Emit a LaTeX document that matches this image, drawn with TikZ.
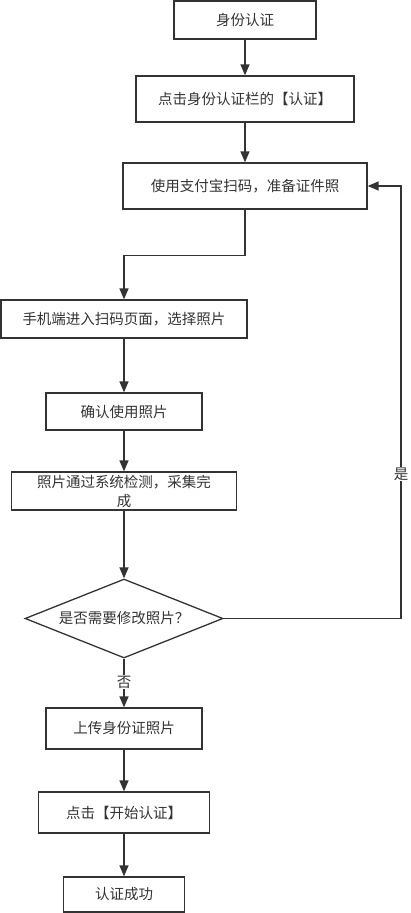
\documentclass[tikz,border=0pt]{standalone}
\usepackage{fontspec}
\setmainfont{Noto Sans CJK SC}
\usetikzlibrary{arrows.meta,shapes.geometric}
\definecolor{ink}{HTML}{333333}
\tikzset{
  box/.style={draw=ink, line width=1.3pt, text=ink, inner sep=0pt, font=\fontsize{14.5}{19}\selectfont, align=center},
  flow/.style={draw=ink, line width=1.3pt, -{Triangle[length=11pt,width=9pt]}},
  lbl/.style={fill=white, text=ink, inner sep=1pt, font=\fontsize{14.5}{19}\selectfont}
}
\begin{document}
\begin{tikzpicture}[x=1pt,y=-1pt]
\useasboundingbox (0,0) rectangle (411,913);
\node[box, minimum width=142pt, minimum height=38pt] (b1) at (245,20) {身份认证};
\node[box, minimum width=218pt, minimum height=46pt] (b2) at (245,99) {点击身份认证栏的【认证】};
\node[box, minimum width=244pt, minimum height=46pt] (b3) at (245,186) {使用支付宝扫码，准备证件照};
\node[box, minimum width=246pt, minimum height=38pt] (b4) at (124,319) {手机端进入扫码页面，选择照片};
\node[box, minimum width=156pt, minimum height=37pt] (b5) at (124,411.5) {确认使用照片};
\node[box, minimum width=225pt, minimum height=38pt] (b6) at (124,491) {照片通过系统检测，采集完\\成};
\node[box, shape=diamond, aspect=2.506, minimum width=198pt, minimum height=79pt] (d) at (124,618.5) {是否需要修改照片？};
\node[box, minimum width=156pt, minimum height=41pt] (b7) at (124,728.5) {上传身份证照片};
\node[box, minimum width=171pt, minimum height=41pt] (b8) at (124,812.5) {点击【开始认证】};
\node[box, minimum width=121pt, minimum height=35pt] (b9) at (124,894.5) {认证成功};
\coordinate (r) at (401,618.5);
\draw[flow] (b1) -- (b2);
\draw[flow] (b2) -- (b3);
\draw[flow] (b3.south) -- ++(0,46) -| (b4.north);
\draw[flow] (b4) -- (b5);
\draw[flow] (b5) -- (b6);
\draw[flow] (b6) -- (d);
\draw[flow] (d.east) -- (r) |- (b3.east);
\node[lbl] (yes) at (401,474) {是};
\draw[flow] (d.south) -- (b7.north);
\node[lbl] (no) at (124,682) {否};
\draw[flow] (b7) -- (b8);
\draw[flow] (b8) -- (b9);
\end{tikzpicture}
\end{document}
